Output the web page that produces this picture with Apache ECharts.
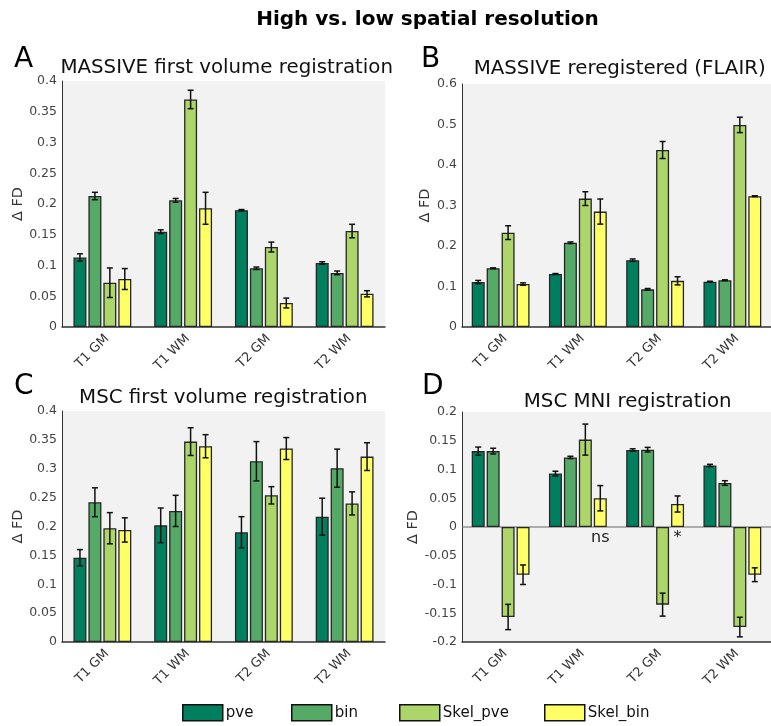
<!DOCTYPE html>
<html>
<head>
<meta charset="utf-8">
<script src="https://cdn.jsdelivr.net/npm/echarts@6/dist/echarts.min.js"></script>
<style>
  html, body { margin: 0; padding: 0; background: #ffffff; }
  #chart { width: 771px; height: 726px; }
</style>
</head>
<body>
<div id="chart"></div>
<script>
// Tissue / contrast categories on every panel
const categories = ['T1 GM', 'T1 WM', 'T2 GM', 'T2 WM'];
const seriesNames = ['pve', 'bin', 'Skel_pve', 'Skel_bin'];
const seriesColors = ['#007f5f', '#54aa66', '#acd66a', '#ffff66'];

// Panel A: MASSIVE first volume registration (rows follow seriesNames)
const massiveFirstMean = [
  [0.113, 0.155, 0.190, 0.104],
  [0.213, 0.206, 0.0955, 0.088],
  [0.072, 0.370, 0.130, 0.156],
  [0.078, 0.193, 0.039, 0.054]
];
const massiveFirstErr = [
  [0.006, 0.003, 0.001, 0.002],
  [0.006, 0.003, 0.002, 0.003],
  [0.024, 0.015, 0.008, 0.011],
  [0.017, 0.026, 0.008, 0.005]
];

// Panel B: MASSIVE reregistered (FLAIR)
const massiveFlairMean = [
  [0.111, 0.131, 0.165, 0.112],
  [0.145, 0.208, 0.093, 0.1155],
  [0.233, 0.317, 0.437, 0.499],
  [0.106, 0.285, 0.114, 0.323]
];
const massiveFlairErr = [
  [0.004, 0.001, 0.003, 0.001],
  [0.001, 0.002, 0.002, 0.001],
  [0.017, 0.017, 0.021, 0.019],
  [0.003, 0.031, 0.010, 0.001]
];

// Panel C: MSC first volume registration
const mscFirstMean = [
  [0.146, 0.202, 0.190, 0.217],
  [0.242, 0.227, 0.313, 0.301],
  [0.197, 0.347, 0.254, 0.240],
  [0.194, 0.339, 0.335, 0.321]
];
const mscFirstErr = [
  [0.014, 0.030, 0.027, 0.032],
  [0.025, 0.027, 0.034, 0.033],
  [0.027, 0.024, 0.015, 0.020],
  [0.021, 0.020, 0.019, 0.024]
];

// Panel D: MSC MNI registration
const mscMniMean = [
  [0.132, 0.093, 0.134, 0.107],
  [0.132, 0.121, 0.1345, 0.0765],
  [-0.1565, 0.152, -0.135, -0.174],
  [-0.083, 0.050, 0.040, -0.083]
];
const mscMniErr = [
  [0.007, 0.004, 0.002, 0.002],
  [0.005, 0.002, 0.004, 0.004],
  [0.022, 0.027, 0.020, 0.017],
  [0.017, 0.022, 0.014, 0.012]
];
// Significance marks under the Skel_bin bars of panel D
const mscMniNotes = [
  { category: 'T1 WM', series: 'Skel_bin', text: 'ns' },
  { category: 'T2 GM', series: 'Skel_bin', text: '*' }
];

// y-axis ranges per panel
const yRanges = [
  { min: 0, max: 0.4, interval: 0.05 },
  { min: 0, max: 0.6, interval: 0.1 },
  { min: 0, max: 0.4, interval: 0.05 },
  { min: -0.2, max: 0.2, interval: 0.05 }
];

const panels = [
  { letter: 'A', title: 'MASSIVE first volume registration', mean: massiveFirstMean, err: massiveFirstErr, notes: [] },
  { letter: 'B', title: 'MASSIVE reregistered (FLAIR)', mean: massiveFlairMean, err: massiveFlairErr, notes: [] },
  { letter: 'C', title: 'MSC first volume registration', mean: mscFirstMean, err: mscFirstErr, notes: [] },
  { letter: 'D', title: 'MSC MNI registration', mean: mscMniMean, err: mscMniErr, notes: mscMniNotes }
];

// Layout
const FONT = '"DejaVu Sans", Verdana, sans-serif';
const BAR_W = 13;
const BAR_GAP = 0.15;
const PITCH = BAR_W * (1 + BAR_GAP);
const grids = [
  { left: 62, top: 81, width: 323, height: 246 },
  { left: 462, top: 84, width: 318, height: 243 },
  { left: 62, top: 411, width: 323, height: 231 },
  { left: 462, top: 412, width: 318, height: 230 }
];
const nameGaps = [34, 25, 34, 40];
const letterPos = [[14, 60], [421, 60], [14, 387], [422, 387]];
const titlePos = [[226.7, 68], [619.7, 69], [223.3, 398], [627.7, 401.5]];
const legendLefts = [182, 291, 399, 544];

const option = {
  animation: false,
  backgroundColor: '#ffffff',
  textStyle: { fontFamily: FONT },
  grid: grids.map(g => Object.assign({
    show: true, backgroundColor: '#f2f2f2', borderWidth: 0, containLabel: false
  }, g)),
  xAxis: [],
  yAxis: [],
  series: [],
  legend: seriesNames.map((name, i) => ({
    data: [name],
    left: legendLefts[i], top: 704,
    padding: 0,
    itemWidth: 40, itemHeight: 16,
    icon: 'rect',
    itemStyle: { borderColor: '#111', borderWidth: 1.5 },
    textStyle: { fontFamily: FONT, fontSize: 15, color: '#111', padding: [0, 0, 0, -2] }
  })),
  graphic: []
};

option.graphic.push({
  type: 'text', x: 427.5, y: 19.5,
  style: { text: 'High vs. low spatial resolution', font: 'bold 20px ' + FONT, fill: '#000', align: 'center', verticalAlign: 'middle' }
});

panels.forEach((p, gi) => {
  option.graphic.push({
    type: 'text', x: letterPos[gi][0], y: letterPos[gi][1],
    style: { text: p.letter, font: '28px ' + FONT, fill: '#000', align: 'left', verticalAlign: 'middle' }
  });
  option.graphic.push({
    type: 'text', x: titlePos[gi][0], y: titlePos[gi][1],
    style: { text: p.title, font: '19.8px ' + FONT, fill: '#111', align: 'center', verticalAlign: 'middle' }
  });

  option.xAxis.push({
    type: 'category', gridIndex: gi, data: categories,
    axisLine: { onZero: false, lineStyle: { color: '#333', width: 1.5 } },
    axisTick: { show: false },
    axisLabel: { rotate: 45, fontSize: 13, color: '#333', margin: 5, verticalAlign: 'top', fontFamily: FONT },
    splitLine: { show: false }
  });
  const r = yRanges[gi];
  option.yAxis.push({
    type: 'value', gridIndex: gi, min: r.min, max: r.max, interval: r.interval,
    name: 'Δ FD', nameLocation: 'middle', nameGap: nameGaps[gi], nameRotate: 90,
    nameTextStyle: { fontSize: 14.5, color: '#333', fontFamily: FONT },
    axisLine: { show: true, lineStyle: { color: '#333', width: 1 } },
    axisTick: { show: false },
    axisLabel: { fontSize: 12.5, color: '#444', margin: 5, fontFamily: FONT },
    splitLine: { show: false }
  });

  seriesNames.forEach((name, si) => {
    option.series.push({
      type: 'bar', name: name, xAxisIndex: gi, yAxisIndex: gi,
      data: p.mean[si],
      barWidth: BAR_W, barGap: (BAR_GAP * 100) + '%',
      itemStyle: { color: seriesColors[si], borderColor: '#262626', borderWidth: 1.3 },
      z: 3
    });
  });

  // Error bars drawn from the same means and spreads
  const errData = [];
  seriesNames.forEach((name, si) => {
    p.mean[si].forEach((m, ci) => errData.push([ci, si, m, p.err[si][ci]]));
  });
  option.series.push({
    type: 'custom', xAxisIndex: gi, yAxisIndex: gi, z: 5, silent: true,
    data: errData,
    encode: { x: 0, y: 2 },
    renderItem: function (params, api) {
      const ci = api.value(0), si = api.value(1), m = api.value(2), e = api.value(3);
      const cx = api.coord([ci, 0])[0] + (si - 1.5) * PITCH;
      const yHi = api.coord([ci, m + e])[1];
      const yLo = api.coord([ci, m - e])[1];
      const half = 3;
      const st = { stroke: '#111', lineWidth: 1.5 };
      return {
        type: 'group',
        children: [
          { type: 'line', shape: { x1: cx, y1: yHi, x2: cx, y2: yLo }, style: st },
          { type: 'line', shape: { x1: cx - half, y1: yHi, x2: cx + half, y2: yHi }, style: st },
          { type: 'line', shape: { x1: cx - half, y1: yLo, x2: cx + half, y2: yLo }, style: st }
        ]
      };
    }
  });

  // Zero reference line for panels that go negative
  if (r.min < 0) {
    option.series.push({
      type: 'custom', xAxisIndex: gi, yAxisIndex: gi, z: 1, silent: true,
      data: [[0, 0]],
      renderItem: function (params, api) {
        const y0 = api.coord([0, 0])[1];
        const cs = params.coordSys;
        return {
          type: 'line',
          shape: { x1: cs.x, y1: y0, x2: cs.x + cs.width, y2: y0 },
          style: { stroke: '#666', lineWidth: 1.2 }
        };
      }
    });
  }

  // Significance notes below the zero line
  if (p.notes.length) {
    option.series.push({
      type: 'custom', xAxisIndex: gi, yAxisIndex: gi, z: 6, silent: true,
      data: p.notes.map(n => [categories.indexOf(n.category), seriesNames.indexOf(n.series)]),
      renderItem: function (params, api) {
        const ci = api.value(0), si = api.value(1);
        const note = p.notes[params.dataIndex];
        const cx = api.coord([ci, 0])[0] + (si - 1.5) * PITCH;
        const y0 = api.coord([ci, 0])[1];
        return {
          type: 'text', x: cx, y: y0 + 11,
          style: { text: note.text, font: '16px ' + FONT, fill: '#222', align: 'center', verticalAlign: 'middle' }
        };
      }
    });
  }
});

const chart = echarts.init(document.getElementById('chart'), null, { renderer: 'canvas' });
chart.setOption(option);
</script>
</body>
</html>
